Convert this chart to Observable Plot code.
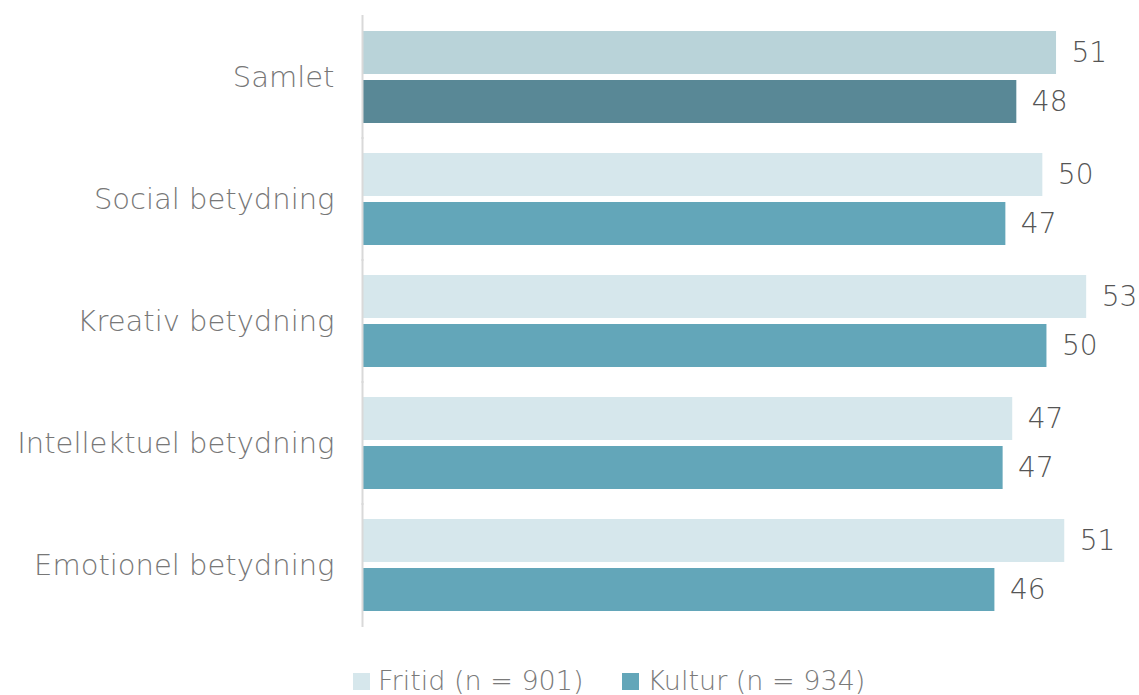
<!DOCTYPE html>
<html>
<head>
<meta charset="utf-8">
<script src="https://cdn.jsdelivr.net/npm/d3@7"></script>
<script src="https://cdn.jsdelivr.net/npm/@observablehq/plot@0.6"></script>
<style>
  body { margin: 0; background: #fff; font-family: "DejaVu Sans", sans-serif; }
  #chart svg { display: block; }
  #legend { display: flex; align-items: center; padding-left: 353px; margin-top: 21px; height: 30px; line-height: 30px; font-size: 27px; font-weight: 200; color: #7a7a7a; }
  .item { display: flex; align-items: center; margin-right: 39px; }
  .sw { width: 17px; height: 17px; margin-right: 8px; }
</style>
</head>
<body>
<div id="chart"></div>
<div id="legend"></div>
<script>
const categories = ["Samlet", "Social betydning", "Kreativ betydning", "Intellektuel betydning", "Emotionel betydning"];
const seriesNames = ["Fritid (n = 901)", "Kultur (n = 934)"];
const fritid = [50.6, 49.6, 52.8, 47.4, 51.2];
const kultur = [47.7, 46.9, 49.9, 46.7, 46.1];
const fritidColors = ["#b9d3d9", "#d6e7ec", "#d6e7ec", "#d6e7ec", "#d6e7ec"];
const kulturColors = ["#598896", "#63a6b9", "#63a6b9", "#63a6b9", "#63a6b9"];

const data = [];
categories.forEach((c, i) => {
  data.push({category: c, series: seriesNames[0], value: fritid[i], color: fritidColors[i]});
  data.push({category: c, series: seriesNames[1], value: kultur[i], color: kulturColors[i]});
});

const plot = Plot.plot({
  width: 1139,
  height: 645,
  marginLeft: 363,
  marginRight: 9,
  marginTop: 30,
  marginBottom: 33,
  style: {fontSize: "29px", fontFamily: "'DejaVu Sans', sans-serif", fontWeight: 200, color: "#777", background: "#fff"},
  x: {domain: [0, 56], axis: null},
  y: {domain: seriesNames, axis: null, paddingInner: 0.125, paddingOuter: 0},
  fy: {domain: categories, paddingInner: 0.25, paddingOuter: 0, axis: "left", label: null, tickSize: 0, tickPadding: 29},
  color: {type: "identity"},
  marks: [
    Plot.barX(data, {x: "value", y: "series", fy: "category", fill: "color"}),
    Plot.ruleX([0], {stroke: "#d9d9d9", strokeWidth: 2, dx: -1, insetTop: -16, insetBottom: -16}),
    Plot.text(data, {x: "value", y: "series", fy: "category", text: d => String(Math.round(d.value)), textAnchor: "start", dx: 15, fill: "#555", fontSize: 28})
  ]
});
document.getElementById("chart").appendChild(plot);

const legend = document.getElementById("legend");
const legendColors = [fritidColors[1], kulturColors[1]];
seriesNames.forEach((s, i) => {
  const item = document.createElement("div");
  item.className = "item";
  const sw = document.createElement("div");
  sw.className = "sw";
  sw.style.background = legendColors[i];
  const t = document.createElement("span");
  t.textContent = s;
  item.appendChild(sw);
  item.appendChild(t);
  legend.appendChild(item);
});
</script>
</body>
</html>
